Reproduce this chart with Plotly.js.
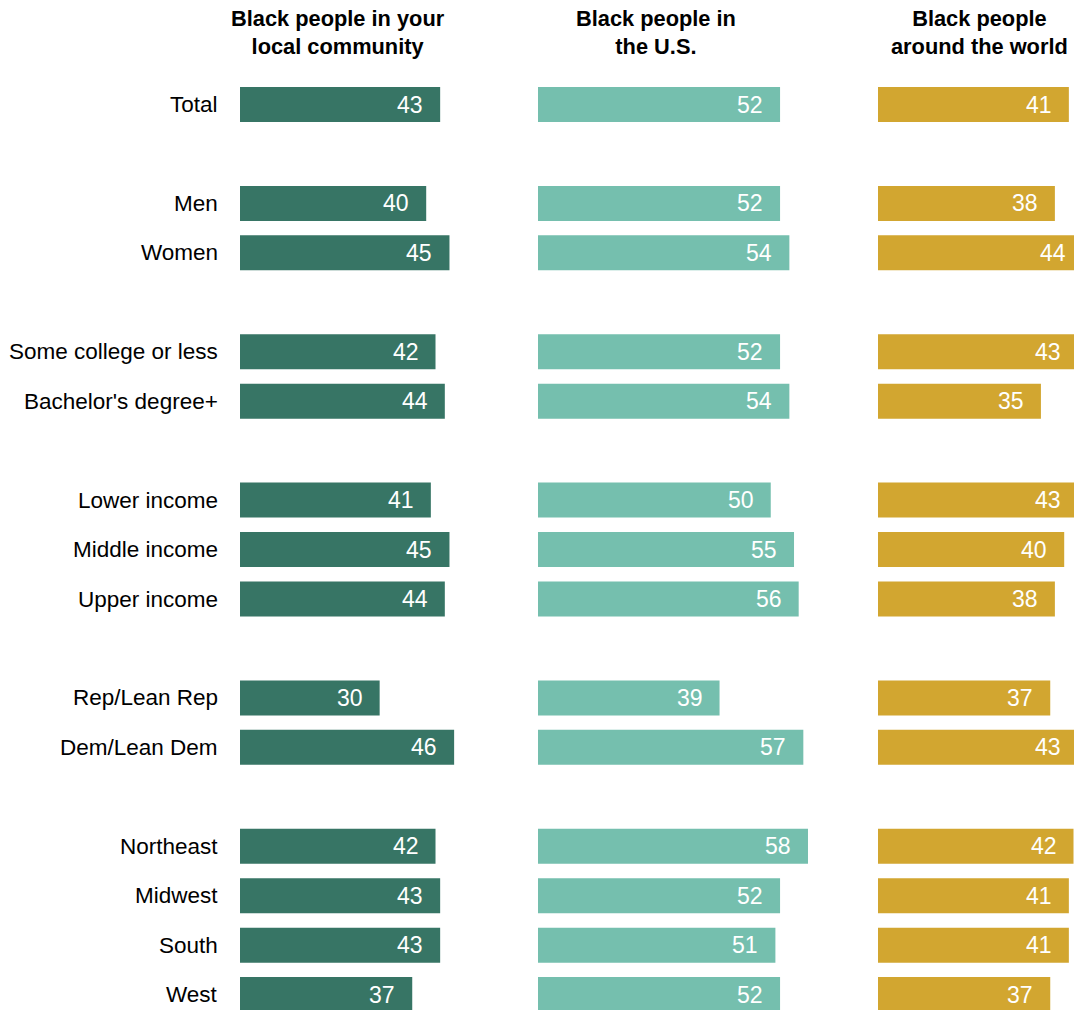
<!DOCTYPE html>
<html>
<head>
<meta charset="utf-8">
<script src="https://cdn.plot.ly/plotly-3.0.1.min.js"></script>
<style>
html, body { margin: 0; padding: 0; overflow: hidden; background: #fff; }
#chart { width: 1090px; height: 1010px; }
</style>
</head>
<body>
<div id="chart"></div>
<script>
// ---- Data ----
const groups = [
  ["Total"],
  ["Men", "Women"],
  ["Some college or less", "Bachelor's degree+"],
  ["Lower income", "Middle income", "Upper income"],
  ["Rep/Lean Rep", "Dem/Lean Dem"],
  ["Northeast", "Midwest", "South", "West"]
];
const panelTitles = [
  "Black people in your<br>local community",
  "Black people in<br>the U.S.",
  "Black people<br>around the world"
];
const localValues = [43, 40, 45, 42, 44, 41, 45, 44, 30, 46, 42, 43, 43, 37];
const usValues    = [52, 52, 54, 52, 54, 50, 55, 56, 39, 57, 58, 52, 51, 52];
const worldValues = [41, 38, 44, 43, 35, 43, 40, 38, 37, 43, 42, 41, 41, 37];

// ---- Build rows (one blank row between groups) ----
const categories = [];
const rows = [];
let r = 0;
groups.forEach((g, gi) => {
  if (gi > 0) r++;
  g.forEach(c => { categories.push(c); rows.push(r); r++; });
});

const W = 1090, H = 1010;
const k = 4.655;          // px per percentage point
const rowPitch = 49.45;   // px per row
const row0 = 104.5;       // px center of first row

const colors = ["#377565", "#75bfae", "#d2a630"];
const series = [localValues, usValues, worldValues];
const axisIds = ["x", "x2", "x3"];
const starts = [240, 538, 878];
const titleCenters = [338, 655.5, 979];

const traces = series.map((vals, i) => ({
  type: "bar",
  orientation: "h",
  x: vals,
  y: rows,
  xaxis: axisIds[i],
  yaxis: "y",
  width: 0.708,
  marker: { color: colors[i], line: { width: 0 } },
  hoverinfo: "skip"
}));

const annotations = [];
// panel titles
panelTitles.forEach((t, i) => {
  annotations.push({
    text: "<b>" + t + "</b>",
    xref: "paper", yref: "paper",
    x: titleCenters[i] / W, y: 1 - 4 / H,
    xanchor: "center", yanchor: "top",
    showarrow: false, align: "center",
    font: { family: "Liberation Sans, Arial, sans-serif", size: 21.8, color: "#000" }
  });
});
// category labels
categories.forEach((c, j) => {
  annotations.push({
    text: c,
    xref: "paper", yref: "y",
    x: 220 / W, y: rows[j],
    xanchor: "right", yanchor: "middle",
    showarrow: false,
    font: { family: "Liberation Sans, Arial, sans-serif", size: 22.5, color: "#000" }
  });
});
// value labels
series.forEach((vals, i) => {
  vals.forEach((v, j) => {
    annotations.push({
      text: String(v),
      xref: axisIds[i], yref: "y",
      x: v, y: rows[j],
      xanchor: "right", yanchor: "middle",
      xshift: -15,
      showarrow: false,
      font: { family: "Liberation Sans, Arial, sans-serif", size: 23, color: "#fff" }
    });
  });
});

const hiddenAxis = (domain, range) => ({
  domain: domain, range: range,
  showgrid: false, zeroline: false, showline: false,
  showticklabels: false, ticks: "", fixedrange: true
});

const layout = {
  width: W, height: H,
  margin: { l: 0, r: 0, t: 0, b: 0, pad: 0 },
  paper_bgcolor: "#fff", plot_bgcolor: "#fff",
  showlegend: false,
  hovermode: false,
  barmode: "overlay",
  xaxis:  Object.assign(hiddenAxis([starts[0] / W, (starts[0] + k * 60) / W], [0, 60]), { anchor: "y" }),
  xaxis2: Object.assign(hiddenAxis([starts[1] / W, (starts[1] + k * 60) / W], [0, 60]), { anchor: "y" }),
  xaxis3: Object.assign(hiddenAxis([starts[2] / W, 1], [0, (W - starts[2]) / k]), { anchor: "y" }),
  yaxis: hiddenAxis([0, 1], [(H - row0) / rowPitch, (0 - row0) / rowPitch]),
  annotations: annotations
};

Plotly.newPlot("chart", traces, layout, { staticPlot: true, displayModeBar: false });
</script>
</body>
</html>
